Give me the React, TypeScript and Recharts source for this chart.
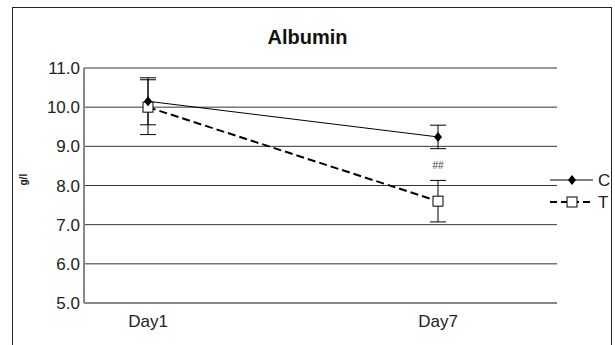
import { LineChart, Line, XAxis, YAxis, CartesianGrid, ErrorBar, Legend, ReferenceDot, Label } from 'recharts';

const days = ['Day1', 'Day7'];
const cValues = [10.15, 9.24];
const cErrors = [0.6, 0.3];
const tValues = [10.0, 7.6];
const tErrors = [0.7, 0.53];
const yTicks = [5, 6, 7, 8, 9, 10, 11];
const annotations = [{ day: 'Day7', y: 8.5, text: '##' }];

const data = days.map((day, i) => ({
  day,
  C: cValues[i],
  cErr: cErrors[i],
  T: tValues[i],
  tErr: tErrors[i],
}));

const FONT = '"Liberation Sans", Arial, sans-serif';

function Diamond(props: any) {
  const { cx, cy, index } = props;
  if (cx == null || cy == null) return <g key={`d${index}`} />;
  return <path key={`d${index}`} d={`M${cx},${cy - 5}L${cx + 4},${cy}L${cx},${cy + 5}L${cx - 4},${cy}Z`} fill="#000" />;
}

function Square(props: any) {
  const { cx, cy, index } = props;
  if (cx == null || cy == null) return <g key={`s${index}`} />;
  return <rect key={`s${index}`} x={cx - 5} y={cy - 5} width={10} height={10} fill="#fff" stroke="#000" strokeWidth={1} />;
}

function renderLegend() {
  return (
    <svg width={70} height={44} style={{ display: 'block' }}>
      <line x1={2} y1={10} x2={45} y2={10} stroke="#000" strokeWidth={1} />
      <path d="M24,5L28,10L24,15L20,10Z" fill="#000" />
      <text x={50} y={16} fontSize={17} fontFamily={FONT} fill="#222">C</text>
      <line x1={2} y1={32} x2={45} y2={32} stroke="#000" strokeWidth={2} strokeDasharray="7 4" />
      <rect x={19} y={27} width={10} height={10} fill="#fff" stroke="#000" />
      <text x={50} y={38} fontSize={17} fontFamily={FONT} fill="#222">T</text>
    </svg>
  );
}

export default function App() {
  return (
    <div style={{ position: 'absolute', left: 0, top: 0, width: 615, height: 345, background: '#fff', overflow: 'hidden' }}>
      <div style={{ position: 'absolute', left: 12, top: 7, width: 598, height: 360, border: '1px solid #222' }} />
      <div style={{ position: 'absolute', left: 0, top: 25, width: 615, textAlign: 'center', fontFamily: FONT, fontWeight: 'bold', fontSize: 20, color: '#111', lineHeight: '24px' }}>
        Albumin
      </div>
      <LineChart width={615} height={345} data={data} margin={{ top: 68, right: 58, bottom: 12, left: 34 }}>
        <CartesianGrid horizontal vertical={false} stroke="#333" strokeWidth={1} />
        <XAxis
          dataKey="day"
          padding={{ left: 64, right: 119 }}
          axisLine={{ stroke: '#888', strokeWidth: 2 }}
          tickLine={false}
          height={30}
          tick={{ fontSize: 17, fill: '#222', fontFamily: FONT }}
          tickMargin={6}
        />
        <YAxis
          domain={[5, 11]}
          ticks={yTicks}
          width={50}
          axisLine={{ stroke: '#888', strokeWidth: 2 }}
          tickLine={false}
          tickSize={4}
          tickMargin={0}
          tickFormatter={(v: number) => v.toFixed(1)}
          tick={{ fontSize: 17, fill: '#222', fontFamily: FONT }}
        >
          <Label value="g/l" angle={-90} position="insideLeft" offset={-11} style={{ fontSize: 10, fontWeight: 'bold', fill: '#222', fontFamily: FONT }} />
        </YAxis>
        <Legend layout="horizontal" verticalAlign="middle" align="center" content={renderLegend} wrapperStyle={{ position: 'absolute', left: 548, top: 170, width: 70, height: 44 }} />
        <Line dataKey="T" stroke="#000" strokeWidth={2} strokeDasharray="8 4" dot={Square} activeDot={false} isAnimationActive={false}>
          <ErrorBar dataKey="tErr" width={8} stroke="#000" strokeWidth={1} direction="y" />
        </Line>
        <Line dataKey="C" stroke="#000" strokeWidth={1} dot={Diamond} activeDot={false} isAnimationActive={false}>
          <ErrorBar dataKey="cErr" width={8} stroke="#000" strokeWidth={1} direction="y" />
        </Line>
        {annotations.map((a) => (
          <ReferenceDot key={a.text} x={a.day} y={a.y} r={0} stroke="none" fill="none">
            <Label value={a.text} position="center" style={{ fontSize: 10, fill: '#444', fontFamily: FONT }} />
          </ReferenceDot>
        ))}
      </LineChart>
    </div>
  );
}
